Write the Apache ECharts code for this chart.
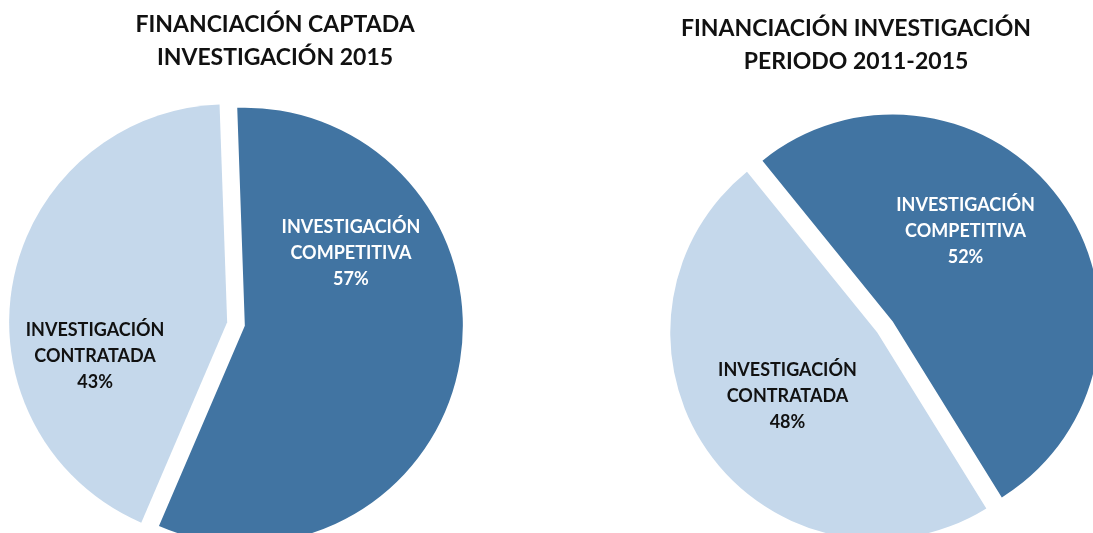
<!DOCTYPE html>
<html>
<head>
<meta charset="utf-8" />
<title>Financiación investigación</title>
<script src="https://cdn.jsdelivr.net/npm/echarts@6/dist/echarts.min.js"></script>
<style>
  html, body { margin: 0; padding: 0; background: #fff; }
  #main { width: 1093px; height: 533px; }
</style>
</head>
<body>
<div id="main"></div>
<script type="text/javascript">
/* datos */
var categorias = ['INVESTIGACIÓN COMPETITIVA', 'INVESTIGACIÓN CONTRATADA'];
var valores2015 = [57, 43];
var valores2011_2015 = [52, 48];
var titulos = ['FINANCIACIÓN CAPTADA\nINVESTIGACIÓN 2015', 'FINANCIACIÓN INVESTIGACIÓN\nPERIODO 2011-2015'];

var colores = ['#4174A2', '#C5D8EB'];
var colorTexto = ['#ffffff', '#111111'];
var fuente = 'Lato, "DejaVu Sans", sans-serif';

/* desplazamiento de las etiquetas respecto a la posicion 'inside' */
var ajusteIzq = [[-4, -93], [-22, 54]];
var ajusteDer = [[-14, -29], [-3, 2]];

function datosPie(valores) {
  return valores.map(function (v, i) {
    return {
      name: categorias[i],
      value: v,
      selected: true,
      itemStyle: { color: colores[i] },
      label: { color: colorTexto[i] }
    };
  });
}

function seriePie(valores, centro, radio, inicio, offset, ajuste) {
  return {
    type: 'pie',
    center: centro,
    radius: radio,
    startAngle: inicio,
    clockwise: true,
    selectedMode: 'multiple',
    selectedOffset: offset,
    animation: false,
    silent: true,
    label: {
      show: true,
      position: 'inside',
      fontFamily: fuente,
      fontWeight: 'bold',
      fontSize: 18,
      lineHeight: 26,
      align: 'center',
      formatter: function (p) {
        return p.name.replace(' ', '\n') + '\n' + Math.round(p.percent) + '%';
      }
    },
    labelLine: { show: false },
    labelLayout: function (p) {
      var a = ajuste[p.dataIndex];
      return { dx: a[0], dy: a[1] };
    },
    emphasis: { disabled: true },
    data: datosPie(valores)
  };
}

var estiloTitulo = { fontFamily: fuente, fontWeight: 'bold', fontSize: 23, lineHeight: 33, color: '#111', align: 'center' };

var chart = echarts.init(document.getElementById('main'));
var option = {
  backgroundColor: '#ffffff',
  title: [
    { text: titulos[0], left: 270, top: 3, textAlign: 'center', textStyle: estiloTitulo },
    { text: titulos[1], left: 851, top: 7, textAlign: 'center', textStyle: estiloTitulo }
  ],
  series: [
    seriePie(valores2015, [236, 324], 218, 92, 9, ajusteIzq),
    seriePie(valores2011_2015, [885, 327], 207, 129, 9.5, ajusteDer)
  ]
};
chart.setOption(option);
</script>
</body>
</html>
